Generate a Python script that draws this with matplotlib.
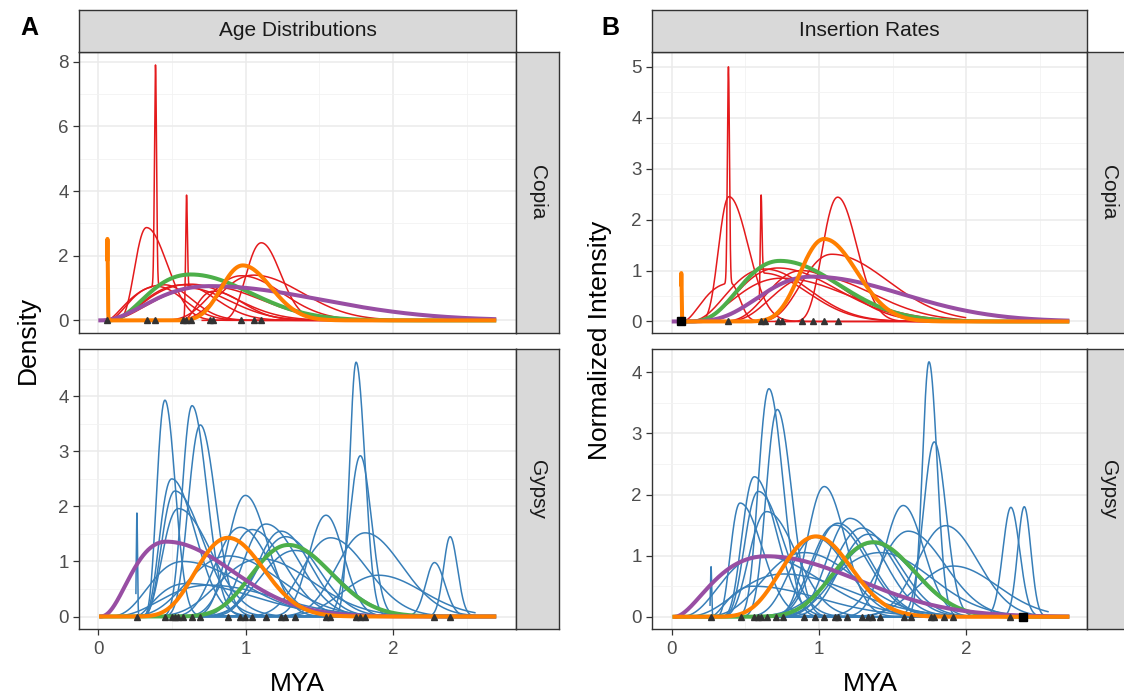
import numpy as np
import matplotlib
matplotlib.use("Agg")
import matplotlib.pyplot as plt
from matplotlib.ticker import MultipleLocator

plt.rcParams['font.family'] = ['Liberation Sans', 'DejaVu Sans']

# ---------------- data ----------------
# thin per-family curves: start of support, mode, peak height, left / right spread
copia_age_start = [0.06, 0.06, 0.06, 0.578, 0.06, 0.06, 0.06, 0.25, 0.40, 0.70, 0.55]
copia_age_mode = [0.327, 0.40, 0.575, 0.61, 0.627, 0.756, 0.45, 0.97, 1.054, 1.106, 0.779]
copia_age_height = [2.87, 1.05, 1.10, 1.0, 1.12, 1.05, 1.10, 1.38, 1.40, 2.40, 0.9]
copia_age_left = [0.085, 0.22, 0.30, 0.012, 0.35, 0.45, 0.30, 0.22, 0.25, 0.11, 0.12]
copia_age_right = [0.14, 0.18, 0.22, 0.28, 0.30, 0.35, 0.18, 0.28, 0.33, 0.13, 0.20]
copia_age_spike_curve = [1, 3]
copia_age_spike_pos = [0.388, 0.598]
copia_age_spike_peak = [7.9, 3.85]
copia_age_spike_width = [0.007, 0.006]
copia_age_marks = [0.062, 0.327, 0.388, 0.575, 0.598, 0.627, 0.756, 0.779, 0.97, 1.054, 1.106]

gypsy_age_start = [0.255, 0.26, 0.26, 0.26, 0.26, 0.02, 0.26, 0.26, 0.02, 0.26, 0.26,
                   0.26, 0.26, 0.26, 0.26, 0.26, 0.26, 0.26, 0.26, 0.26, 0.26, 0.26,
                   0.26, 0.02, 0.02, 0.26]
gypsy_age_mode = [0.60, 0.452, 0.498, 0.52, 0.543, 0.572, 0.636, 0.692, 0.882, 0.964, 0.998,
                  1.043, 1.138, 1.24, 1.27, 1.335, 1.545, 1.575, 1.749, 1.778, 1.81, 2.281,
                  2.387, 0.75, 1.10, 1.90]
gypsy_age_height = [0.6, 3.93, 2.5, 2.28, 1.96, 1.0, 3.83, 3.48, 1.1, 1.62, 2.2,
                    1.58, 1.68, 1.55, 1.45, 1.2, 1.84, 1.43, 4.62, 2.92, 1.52, 0.98,
                    1.45, 0.57, 1.05, 0.75]
gypsy_age_left = [0.25, 0.06, 0.09, 0.10, 0.12, 0.25, 0.07, 0.086, 0.30, 0.18, 0.125,
                  0.17, 0.16, 0.17, 0.20, 0.25, 0.12, 0.20, 0.044, 0.075, 0.20, 0.06,
                  0.045, 0.35, 0.30, 0.25]
gypsy_age_right = [0.45, 0.07, 0.16, 0.19, 0.22, 0.40, 0.10, 0.104, 0.35, 0.20, 0.15,
                   0.22, 0.22, 0.20, 0.22, 0.28, 0.12, 0.25, 0.06, 0.075, 0.25, 0.07,
                   0.05, 0.45, 0.35, 0.30]
gypsy_age_spike_curve = [0]
gypsy_age_spike_pos = [0.262]
gypsy_age_spike_peak = [1.88]
gypsy_age_spike_width = [0.004]
gypsy_age_marks = [0.262, 0.452, 0.498, 0.52, 0.543, 0.572, 0.636, 0.692, 0.882, 0.964,
                   0.998, 1.043, 1.138, 1.24, 1.27, 1.335, 1.545, 1.575, 1.749, 1.778,
                   1.81, 2.281, 2.387]

copia_rate_start = [0.07, 0.07, 0.595, 0.07, 0.07, 0.07, 0.25, 0.45, 0.70, 0.30]
copia_rate_mode = [0.389, 0.40, 0.62, 0.633, 0.72, 0.747, 0.882, 1.086, 1.127, 0.962]
copia_rate_height = [2.45, 0.75, 0.95, 1.03, 1.05, 0.85, 1.0, 1.32, 2.44, 0.9]
copia_rate_left = [0.075, 0.22, 0.01, 0.28, 0.30, 0.35, 0.25, 0.22, 0.11, 0.30]
copia_rate_right = [0.13, 0.06, 0.30, 0.30, 0.40, 0.45, 0.30, 0.38, 0.13, 0.40]
copia_rate_spike_curve = [1, 2]
copia_rate_spike_pos = [0.385, 0.606]
copia_rate_spike_peak = [5.0, 2.45]
copia_rate_spike_width = [0.007, 0.006]
copia_rate_marks = [0.385, 0.606, 0.633, 0.72, 0.747, 0.882, 0.962, 1.034, 1.127]
copia_rate_square = [0.063]

gypsy_rate_start = [0.26, 0.26, 0.26, 0.26, 0.02, 0.26, 0.26, 0.26, 0.02, 0.02, 0.26,
                    0.26, 0.26, 0.26, 0.26, 0.26, 0.26, 0.02, 0.02, 0.26, 0.26, 0.26,
                    0.26, 0.26, 0.26, 0.26, 0.26]
gypsy_rate_mode = [0.55, 0.464, 0.561, 0.588, 0.606, 0.645, 0.66, 0.717, 0.758, 0.898, 0.973,
                   1.036, 1.109, 1.127, 1.21, 1.29, 1.335, 1.362, 1.414, 1.572, 1.606,
                   1.747, 1.783, 1.86, 1.912, 2.303, 2.394]
gypsy_rate_height = [0.5, 1.86, 2.29, 2.05, 1.0, 1.72, 3.73, 3.39, 0.7, 1.05, 1.3,
                     2.13, 1.5, 1.53, 1.61, 1.45, 1.35, 1.2, 1.05, 1.82, 1.4,
                     4.17, 2.86, 1.49, 0.83, 1.79, 1.8]
gypsy_rate_left = [0.20, 0.07, 0.09, 0.10, 0.30, 0.13, 0.075, 0.08, 0.35, 0.30, 0.18,
                   0.12, 0.17, 0.17, 0.16, 0.20, 0.20, 0.25, 0.35, 0.13, 0.20,
                   0.045, 0.075, 0.20, 0.25, 0.055, 0.045]
gypsy_rate_right = [0.45, 0.15, 0.15, 0.17, 0.40, 0.20, 0.094, 0.097, 0.45, 0.35, 0.22,
                    0.14, 0.22, 0.22, 0.22, 0.22, 0.22, 0.28, 0.35, 0.14, 0.25,
                    0.055, 0.08, 0.22, 0.30, 0.06, 0.045]
gypsy_rate_spike_curve = [0]
gypsy_rate_spike_pos = [0.267]
gypsy_rate_spike_peak = [0.82]
gypsy_rate_spike_width = [0.004]
gypsy_rate_marks = [0.267, 0.471, 0.561, 0.584, 0.606, 0.645, 0.706, 0.758, 0.898, 0.973,
                    1.034, 1.109, 1.127, 1.188, 1.29, 1.335, 1.362, 1.414, 1.579, 1.624,
                    1.76, 1.783, 1.851, 1.912, 2.296]
gypsy_rate_square = [2.387]

# thick summary curves, order: green, purple, orange
fit_colors = ['#4DAF4A', '#984EA3', '#FF7F00']
copia_age_fit_start = [0.06, 0.0, 0.06]
copia_age_fit_mode = [0.627, 0.756, 0.98]
copia_age_fit_height = [1.42, 1.06, 1.70]
copia_age_fit_left = [0.34, 0.46, 0.15]
copia_age_fit_right = [0.40, 0.75, 0.19]
copia_age_fit_spike = [2, 0.062, 2.52, 0.0025]

gypsy_age_fit_start = [0.005, 0.01, 0.005]
gypsy_age_fit_mode = [1.29, 0.46, 0.88]
gypsy_age_fit_height = [1.30, 1.36, 1.43]
gypsy_age_fit_left = [0.26, 0.28, 0.23]
gypsy_age_fit_right = [0.29, 0.45, 0.24]

copia_rate_fit_start = [0.063, 0.0, 0.063]
copia_rate_fit_mode = [0.735, 0.95, 1.036]
copia_rate_fit_height = [1.19, 0.88, 1.62]
copia_rate_fit_left = [0.30, 0.38, 0.17]
copia_rate_fit_right = [0.40, 0.62, 0.22]
copia_rate_fit_spike = [2, 0.065, 0.95, 0.0025]

gypsy_rate_fit_start = [0.005, 0.02, 0.005]
gypsy_rate_fit_mode = [1.369, 0.645, 0.98]
gypsy_rate_fit_height = [1.22, 0.99, 1.315]
gypsy_rate_fit_left = [0.28, 0.45, 0.25]
gypsy_rate_fit_right = [0.28, 0.62, 0.24]

thin_end = {'Copia': 2.0, 'Gypsy': 2.56}
fit_end = 2.70


# ---------------- helpers ----------------
def bump(x, start, mode, height, left, right):
    y = np.zeros_like(x)
    span = max(mode - start, 1e-6)
    a = (span / left) ** 2
    m1 = (x > start) & (x <= mode)
    t = (x[m1] - start) / span
    y[m1] = height * np.exp(a * (np.log(t) + 1.0 - t))
    m2 = x > mode
    y[m2] = height * np.exp(-0.5 * ((x[m2] - mode) / right) ** 2)
    return y


def curve(start, mode, height, left, right, end, spikes=()):
    x = np.linspace(start, end, 9000)
    y = bump(x, start, mode, height, left, right)
    for pos, peak, w in spikes:
        base = bump(np.array([pos]), start, mode, height, left, right)[0]
        y = y + (peak - base) * np.exp(-0.5 * ((x - pos) / w) ** 2)
    return x, y


W, H = 1124, 697
fig = plt.figure(figsize=(W / 100, H / 100), dpi=100)
fig.patch.set_facecolor('white')


def px_axes(left, top, width, height, **kw):
    return fig.add_axes([left / W, 1 - (top + height) / H, width / W, height / H], **kw)


def strip(left, top, width, height, label, rotation=0):
    s = px_axes(left, top, width, height)
    s.set_xticks([]); s.set_yticks([])
    s.set_facecolor('#D9D9D9')
    for sp in s.spines.values():
        sp.set_color('#333333'); sp.set_linewidth(1.0)
    s.text(0.5, 0.5, label, ha='center', va='center', rotation=rotation,
           fontsize=15, color='#1A1A1A', transform=s.transAxes)


def style(ax, xlim, ylim, ymaj, bottom):
    ax.set_xlim(*xlim); ax.set_ylim(*ylim)
    ax.xaxis.set_major_locator(MultipleLocator(1))
    ax.xaxis.set_minor_locator(MultipleLocator(0.5))
    ax.yaxis.set_major_locator(MultipleLocator(ymaj))
    ax.yaxis.set_minor_locator(MultipleLocator(ymaj / 2))
    ax.grid(which='major', color='#EBEBEB', linewidth=1.1, zorder=0)
    ax.grid(which='minor', color='#F2F2F2', linewidth=0.6, zorder=0)
    ax.set_axisbelow(True)
    for sp in ax.spines.values():
        sp.set_color('#333333'); sp.set_linewidth(1.0)
    ax.tick_params(which='minor', length=0)
    ax.tick_params(which='major', axis='y', length=4.5, width=0.9, color='#333333',
                   labelsize=13.5, labelcolor='#4D4D4D', pad=3)
    if bottom:
        ax.tick_params(which='major', axis='x', length=4.5, width=0.9, color='#333333',
                       labelsize=13.5, labelcolor='#4D4D4D', pad=4)
    else:
        ax.tick_params(which='major', axis='x', length=0, labelbottom=False)
    ax.set_facecolor('white')


def draw(ax, fam, start, mode, height, left, right, sp_idx, sp_pos, sp_peak, sp_w,
         f_start, f_mode, f_height, f_left, f_right, f_spike, marks, squares, color):
    for i in range(len(mode)):
        spikes = [(p, pk, w) for c, p, pk, w in zip(sp_idx, sp_pos, sp_peak, sp_w) if c == i]
        x, y = curve(start[i], mode[i], height[i], left[i], right[i], thin_end[fam], spikes)
        ax.plot(x, y, color=color, linewidth=1.1, zorder=3, solid_capstyle='butt')
    for j in range(3):
        spikes = []
        if f_spike is not None and f_spike[0] == j:
            spikes = [(f_spike[1], f_spike[2], f_spike[3])]
        x, y = curve(f_start[j], f_mode[j], f_height[j], f_left[j], f_right[j], fit_end, spikes)
        ax.plot(x, y, color=fit_colors[j], linewidth=2.9, zorder=4 + j,
                solid_capstyle='butt')
    ax.plot(marks, np.zeros(len(marks)), linestyle='none', marker='^', markersize=5,
            color='#333333', zorder=10)
    if squares:
        ax.plot(squares, np.zeros(len(squares)), linestyle='none', marker='s',
                markersize=5.5, color='black', zorder=11)


XLIM_A = (-0.131, 2.834)
XLIM_B = (-0.134, 2.82)

# panel A
axA1 = px_axes(79, 52, 437, 281)
style(axA1, XLIM_A, (-0.39, 8.30), 2, False)
draw(axA1, 'Copia', copia_age_start, copia_age_mode, copia_age_height, copia_age_left,
     copia_age_right, copia_age_spike_curve, copia_age_spike_pos, copia_age_spike_peak,
     copia_age_spike_width, copia_age_fit_start, copia_age_fit_mode, copia_age_fit_height,
     copia_age_fit_left, copia_age_fit_right, copia_age_fit_spike, copia_age_marks, None,
     '#E41A1C')
axA2 = px_axes(79, 349, 437, 280)
style(axA2, XLIM_A, (-0.227, 4.86), 1, True)
draw(axA2, 'Gypsy', gypsy_age_start, gypsy_age_mode, gypsy_age_height, gypsy_age_left,
     gypsy_age_right, gypsy_age_spike_curve, gypsy_age_spike_pos, gypsy_age_spike_peak,
     gypsy_age_spike_width, gypsy_age_fit_start, gypsy_age_fit_mode, gypsy_age_fit_height,
     gypsy_age_fit_left, gypsy_age_fit_right, None, gypsy_age_marks, None, '#377EB8')
strip(79, 9.5, 437, 42.5, 'Age Distributions')
strip(516, 52, 43, 281, 'Copia', rotation=-90)
strip(516, 349, 43, 280, 'Gypsy', rotation=-90)

# panel B
axB1 = px_axes(652, 52, 435, 281)
style(axB1, XLIM_B, (-0.226, 5.29), 1, False)
draw(axB1, 'Copia', copia_rate_start, copia_rate_mode, copia_rate_height, copia_rate_left,
     copia_rate_right, copia_rate_spike_curve, copia_rate_spike_pos, copia_rate_spike_peak,
     copia_rate_spike_width, copia_rate_fit_start, copia_rate_fit_mode, copia_rate_fit_height,
     copia_rate_fit_left, copia_rate_fit_right, copia_rate_fit_spike, copia_rate_marks,
     copia_rate_square, '#E41A1C')
axB2 = px_axes(652, 349, 435, 280)
style(axB2, XLIM_B, (-0.2, 4.38), 1, True)
draw(axB2, 'Gypsy', gypsy_rate_start, gypsy_rate_mode, gypsy_rate_height, gypsy_rate_left,
     gypsy_rate_right, gypsy_rate_spike_curve, gypsy_rate_spike_pos, gypsy_rate_spike_peak,
     gypsy_rate_spike_width, gypsy_rate_fit_start, gypsy_rate_fit_mode, gypsy_rate_fit_height,
     gypsy_rate_fit_left, gypsy_rate_fit_right, None, gypsy_rate_marks, gypsy_rate_square,
     '#377EB8')
strip(652, 9.5, 435, 42.5, 'Insertion Rates')
strip(1087, 52, 43, 281, 'Copia', rotation=-90)
strip(1087, 349, 43, 280, 'Gypsy', rotation=-90)

# titles / labels
fig.text(29 / W, 1 - 28 / H, 'A', fontsize=18, fontweight='bold', ha='center', va='center')
fig.text(610 / W, 1 - 28 / H, 'B', fontsize=18, fontweight='bold', ha='center', va='center')
fig.text(28 / W, 1 - 340 / H, 'Density', fontsize=19, rotation=90, ha='center', va='center')
fig.text(600 / W, 1 - 340 / H, 'Normalized Intensity', fontsize=19, rotation=90,
         ha='center', va='center')
fig.text(297 / W, 1 - 684 / H, 'MYA', fontsize=19, ha='center', va='center')
fig.text(870 / W, 1 - 684 / H, 'MYA', fontsize=19, ha='center', va='center')

fig.savefig('out.png', dpi=100, facecolor='white')
